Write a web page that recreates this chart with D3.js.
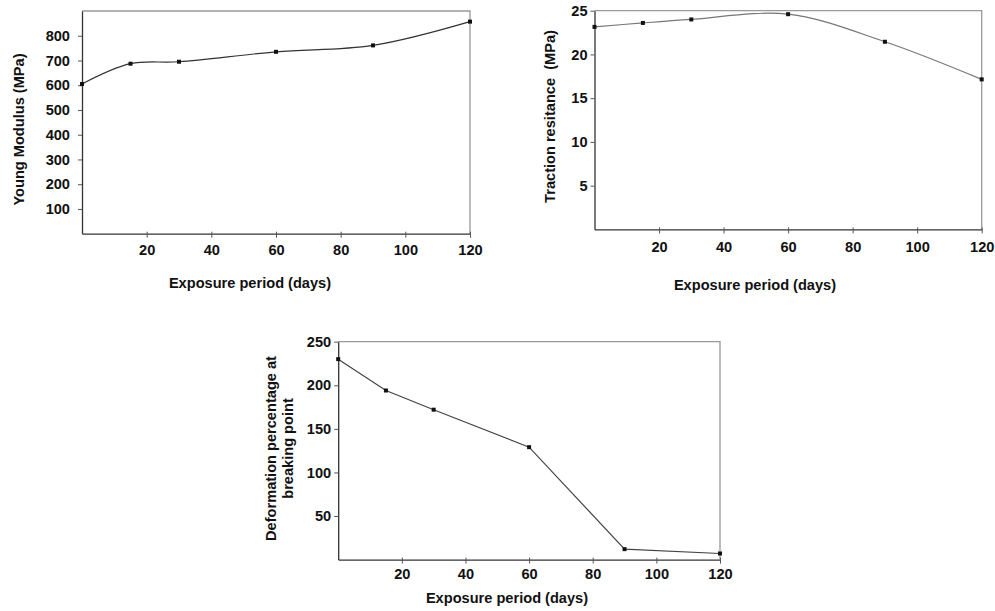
<!DOCTYPE html>
<html><head><meta charset="utf-8">
<script src="https://cdn.jsdelivr.net/npm/d3@7"></script>
<style>body{margin:0;background:#fff}svg{display:block}text{font-family:"Liberation Sans",Arial,sans-serif;font-weight:bold;fill:#111}</style>
</head><body>
<script>
const days = [0, 15, 30, 60, 90, 120];
const youngModulus = [605, 687, 695, 735, 761, 857];
const tractionResistance = [23.15, 23.6, 24.0, 24.6, 21.45, 17.15];
const deformation = [230, 194, 172, 129, 12, 7];
const xTicks = [20, 40, 60, 80, 100, 120];
const youngTicks = [100, 200, 300, 400, 500, 600, 700, 800];
const tractionTicks = [5, 10, 15, 20, 25];
const deformTicks = [50, 100, 150, 200, 250];

const FS = 14.6;
const svg = d3.select("body").append("svg").attr("width", 995).attr("height", 611);

function panel(o) {
  const x = d3.scaleLinear().domain([0, 120]).range([o.l, o.r]);
  const y = d3.scaleLinear().domain([0, o.ymax]).range([o.b, o.t]);
  const g = svg.append("g");
  g.append("path").attr("d", `M${o.l},${o.t}H${o.r}V${o.b}`).attr("fill", "none").attr("stroke", "#999").attr("stroke-width", 1.3);
  const xa = g.append("g").attr("transform", `translate(0,${o.b})`)
    .call(d3.axisBottom(x).tickValues(xTicks).tickSize(4).tickSizeOuter(0).tickPadding(o.xpad));
  const ya = g.append("g").attr("transform", `translate(${o.l},0)`)
    .call(d3.axisLeft(y).tickValues(o.yTicks).tickSize(4).tickSizeOuter(0).tickPadding(o.ypad));
  [xa, ya].forEach(a => {
    a.select(".domain").attr("stroke", "#333").attr("stroke-width", 1.3);
    a.selectAll(".tick line").attr("stroke", "#555");
    a.selectAll("text").attr("font-size", FS).attr("font-family", "Liberation Sans, Arial, sans-serif").attr("font-weight", "bold").attr("fill", "#111");
  });
  xa.selectAll(".tick line").attr("y1", -2);
  const line = d3.line().x((d, i) => x(days[i])).y(d => y(d)).curve(o.curve);
  g.append("path").datum(o.values).attr("d", line).attr("fill", "none").attr("stroke", o.color).attr("stroke-width", 1.2);
  g.selectAll("rect.m").data(o.values).join("rect").attr("class", "m")
    .attr("x", (d, i) => x(days[i]) - 2).attr("y", d => y(d) - 2).attr("width", 4).attr("height", 4).attr("fill", "#111");
  const yl = g.append("text").attr("transform", `translate(${o.ylx},${o.yly}) rotate(-90)`)
    .attr("text-anchor", "middle").attr("font-size", FS).style("white-space", "pre");
  o.ylabel.forEach((s, i) => yl.append("tspan").attr("x", 0).attr("dy", i === 0 ? 0 : 17).text(s));
  g.append("text").attr("x", o.xlx).attr("y", o.xly).attr("text-anchor", "middle").attr("font-size", FS).text("Exposure period (days)");
}

panel({l: 82, r: 470, t: 11, b: 233.7, ymax: 900, yTicks: youngTicks, values: youngModulus,
  curve: d3.curveCatmullRom.alpha(0.5), color: "#333", xpad: 7, ypad: 8,
  ylabel: ["Young Modulus (MPa)"], ylx: 24, yly: 129.5, xlx: 250, xly: 288});
panel({l: 594.5, r: 981.7, t: 10.7, b: 229.4, ymax: 25, yTicks: tractionTicks, values: tractionResistance,
  curve: d3.curveCatmullRom.alpha(0.5), color: "#777", xpad: 8, ypad: 3,
  ylabel: ["Traction resitance  (MPa)"], ylx: 555, yly: 116.5, xlx: 755, xly: 290});
panel({l: 338.2, r: 720, t: 341.7, b: 559.6, ymax: 250, yTicks: deformTicks, values: deformation,
  curve: d3.curveLinear, color: "#444", xpad: 5, ypad: 3,
  ylabel: ["Deformation percentage at", "breaking point"], ylx: 276, yly: 448.5, xlx: 507, xly: 603});
</script>
</body></html>
